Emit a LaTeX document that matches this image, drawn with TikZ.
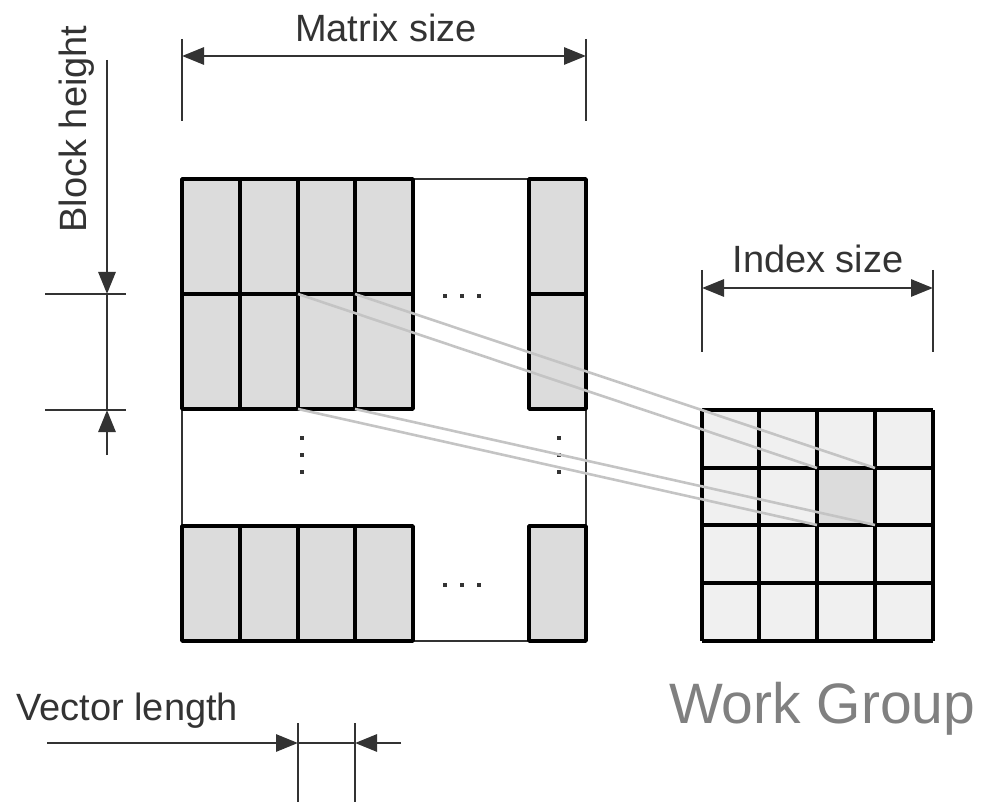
\documentclass[tikz,border=0pt]{standalone}
\usepackage{fontspec}
\setmainfont{Liberation Sans}
\usetikzlibrary{arrows.meta}
\definecolor{inkgray}{HTML}{333333}
\definecolor{blockfill}{HTML}{DCDCDC}
\definecolor{cellfill}{HTML}{F0F0F0}
\definecolor{linkgray}{HTML}{C4C4C4}
\definecolor{wgtext}{HTML}{808080}
\tikzset{
  dimline/.style={draw=inkgray, line width=2.9pt},
  dimarrow/.style={dimline, -{Triangle[length=22pt,width=17pt]}},
  dimboth/.style={dimline, {Triangle[length=22pt,width=17pt]}-{Triangle[length=22pt,width=17pt]}},
  label/.style={inner sep=0pt, anchor=base, text=inkgray, font=\fontsize{38}{44}\selectfont},
  blockcell/.style={fill=blockfill, draw=black, line width=3.4pt, line join=round},
  gridline/.style={black, line width=3.4pt},
  link/.style={draw=linkgray, line width=2.6pt},
  dotmark/.style={fill=inkgray}
}
\begin{document}
\begin{tikzpicture}[x=1pt, y=-1pt]
\useasboundingbox (0,0) rectangle (983,802);

% ---- matrix outline ----
\draw[draw=inkgray, line width=2.6pt] (182,179) rectangle (586,641);

% ---- matrix blocks ----
\foreach \ya/\yb in {179/294, 294/409, 526/641}{
  \foreach \xa/\xb in {182/240, 240/298, 298/355, 355/413, 529/586}{
    \draw[blockcell] (\xa,\ya) rectangle (\xb,\yb);
  }
}

% ---- ellipsis dots ----
\foreach \x in {445,462,479}{
  \fill[dotmark] (\x-2.3,293.7) rectangle (\x+2.3,298.3);
  \fill[dotmark] (\x-2.3,582.7) rectangle (\x+2.3,587.3);
}
\foreach \y in {438,455,472}{
  \fill[dotmark] (299.7,\y-2.3) rectangle (304.3,\y+2.3);
  \fill[dotmark] (556.7,\y-2.3) rectangle (561.3,\y+2.3);
}

% ---- work group grid ----
\fill[cellfill] (702,410) rectangle (933,641);
\fill[blockfill] (817,468) rectangle (875,525);
\foreach \x in {702,759,817,875,933}{
  \draw[gridline] (\x,410) -- (\x,641);
}
\foreach \y in {410,468,525,583,641}{
  \draw[gridline] (702,\y) -- (933,\y);
}

% ---- corners used by the mapping lines ----
\coordinate (bTL) at (298,294);
\coordinate (bTR) at (355,294);
\coordinate (bBL) at (298,409);
\coordinate (bBR) at (355,409);
\coordinate (cTL) at (817,468);
\coordinate (cTR) at (875,468);
\coordinate (cBL) at (817,525);
\coordinate (cBR) at (875,525);
\draw[link] (bTL) -- (cTL);
\draw[link] (bTR) -- (cTR);
\draw[link] (bBL) -- (cBL);
\draw[link] (bBR) -- (cBR);

% ---- Matrix size dimension ----
\coordinate (msL) at (182,56);
\coordinate (msR) at (586,56);
\draw[dimline] (182,39) -- (182,121);
\draw[dimline] (586,39) -- (586,121);
\draw[dimboth] (msL) -- (msR);
\node[label] (mslabel) at (386,42) {Matrix size};

% ---- Index size dimension ----
\coordinate (isL) at (702,288);
\coordinate (isR) at (933,288);
\draw[dimline] (702,270) -- (702,352);
\draw[dimline] (933,270) -- (933,352);
\draw[dimboth] (isL) -- (isR);
\node[label] (islabel) at (818,273) {Index size};

% ---- Block height dimension ----
\coordinate (bhTop) at (107,60);
\coordinate (bhA) at (107,294);
\coordinate (bhB) at (107,410);
\coordinate (bhBot) at (107,455);
\draw[dimline] (45,294) -- (126,294);
\draw[dimline] (45,410) -- (126,410);
\draw[dimarrow] (bhTop) -- (bhA);
\draw[dimline] (bhA) -- (bhB);
\draw[dimarrow] (bhBot) -- (bhB);
\node[label, anchor=center, rotate=90] (bhlabel) at (77,129) {Block height};

% ---- Vector length dimension ----
\coordinate (vlStart) at (47,743);
\coordinate (vlA) at (298,743);
\coordinate (vlB) at (355,743);
\coordinate (vlEnd) at (401,743);
\draw[dimline] (298,723) -- (298,802);
\draw[dimline] (355,723) -- (355,802);
\draw[dimarrow] (vlStart) -- (vlA);
\draw[dimline] (vlA) -- (vlB);
\draw[dimarrow] (vlEnd) -- (vlB);
\node[label, anchor=base west] (vllabel) at (16,720) {Vector length};

% ---- caption ----
\node[inner sep=0pt, anchor=base west, text=wgtext, font=\fontsize{57}{66}\selectfont] (wglabel) at (669,723) {Work Group};
\end{tikzpicture}
\end{document}
